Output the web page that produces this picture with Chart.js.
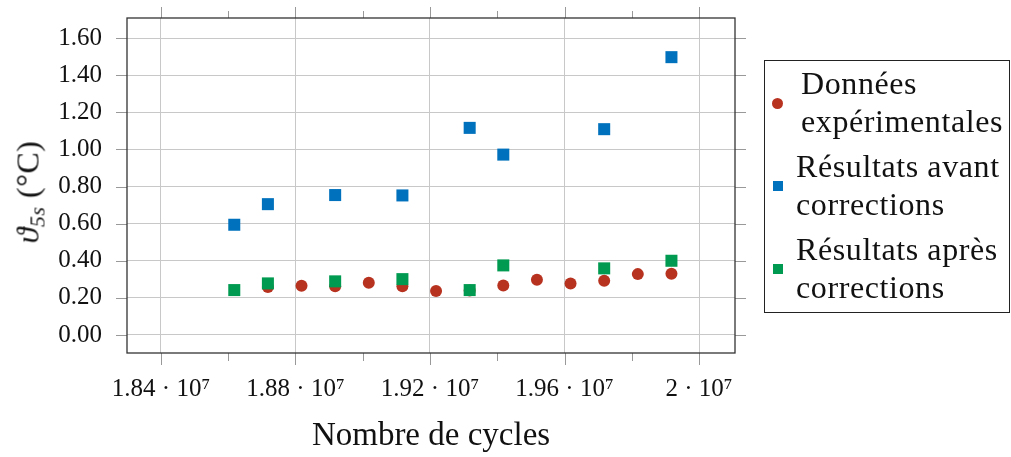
<!DOCTYPE html>
<html>
<head>
<meta charset="utf-8">
<script src="https://cdn.jsdelivr.net/npm/chart.js@4.4.1/dist/chart.umd.min.js"></script>
<style>
  html, body { margin: 0; padding: 0; background: #fff; }
  #wrap { position: relative; width: 1011px; height: 457px; font-family: "Liberation Serif", "DejaVu Serif", serif; color: #111; }
  #chart { position: absolute; left: 0; top: 0; }
  #ytitle { position: absolute; left: 28px; top: 192px; transform: translate(-50%, -50%) rotate(-90deg); font-size: 32px; white-space: nowrap; letter-spacing: 0.5px; }
  #ytitle i { font-style: italic; }
  #ytitle sub { font-size: 22px; vertical-align: -6px; line-height: 0; }
  #legend { position: absolute; left: 764px; top: 60px; width: 246px; height: 253px; border: 1.3px solid #222; box-sizing: border-box; }
  .entry { position: absolute; font-size: 32px; line-height: 38px; white-space: nowrap; letter-spacing: 0.6px; }
  .mark { position: absolute; }
</style>
</head>
<body>
<div id="wrap">
  <canvas id="chart" width="1011" height="457"></canvas>
  <div id="ytitle"><i>ϑ<sub>5s</sub></i> (°C)</div>
  <div id="legend"></div>
</div>
<script>
// cycles where the measurements were taken
const cyclesMesures = [18718000, 18818000, 18918000, 19018000, 19118000, 19218000, 19318000,
                       19418000, 19518000, 19618000, 19718000, 19818000, 19918000];
const tempMesures = [0.258, 0.265, 0.262, 0.282, 0.262, 0.237, 0.240,
                     0.267, 0.298, 0.278, 0.292, 0.328, 0.330];

// cycles of the simulated results
const cyclesSimul = [18618000, 18718000, 18918000, 19118000, 19318000, 19418000, 19718000, 19918000];
const tempAvant = [0.594, 0.705, 0.754, 0.752, 1.116, 0.972, 1.109, 1.497];
const tempApres = [0.242, 0.278, 0.289, 0.301, 0.242, 0.375, 0.359, 0.400];

const seriesNames = [
    ["Données", "expérimentales"],
    ["Résultats avant", "corrections"],
    ["Résultats après", "corrections"],
];
const seriesColors = ["#b83220", "#0071bc", "#009a50"];

const xMajorTicks = [18400000, 18800000, 19200000, 19600000, 20000000];
const xMajorLabels = ["1.84 · 10⁷", "1.88 · 10⁷", "1.92 · 10⁷", "1.96 · 10⁷", "2 · 10⁷"];
const xMinorTicks = [18600000, 19000000, 19400000, 19800000];

const FONT = "'Liberation Serif', 'DejaVu Serif', serif";
const TICK_COLOR = "#999";

function toPts(xs, ys) {
    return xs.map((x, i) => ({ x, y: ys[i] }));
}

// frame + outward ticks on all four sides (pgfplots style)
const frameAndTicks = {
    id: "frameAndTicks",
    afterDraw(chart) {
        const { ctx, chartArea: a } = chart;
        const xs = chart.scales.x, ys = chart.scales.y;
        ctx.save();
        ctx.strokeStyle = TICK_COLOR;
        ctx.lineWidth = 1;
        ctx.beginPath();
        ys.ticks.forEach(t => {
            const py = Math.round(ys.getPixelForValue(t.value)) + 0.5;
            ctx.moveTo(a.left - 11, py); ctx.lineTo(a.left, py);
            ctx.moveTo(a.right, py); ctx.lineTo(a.right + 11, py);
        });
        xs.ticks.forEach(t => {
            const px = Math.round(xs.getPixelForValue(t.value)) + 0.5;
            ctx.moveTo(px, a.bottom); ctx.lineTo(px, a.bottom + 12);
            ctx.moveTo(px, a.top - 11); ctx.lineTo(px, a.top);
        });
        xMinorTicks.forEach(v => {
            const px = Math.round(xs.getPixelForValue(v)) + 0.5;
            ctx.moveTo(px, a.bottom); ctx.lineTo(px, a.bottom + 8);
            ctx.moveTo(px, a.top - 7); ctx.lineTo(px, a.top);
        });
        ctx.stroke();
        ctx.strokeStyle = "#333";
        ctx.lineWidth = 1.3;
        ctx.strokeRect(a.left, a.top, a.right - a.left, a.bottom - a.top);
        ctx.restore();
    },
};

new Chart(document.getElementById("chart"), {
    type: "scatter",
    data: {
        datasets: [
            {
                label: seriesNames[0].join(" "),
                data: toPts(cyclesMesures, tempMesures),
                pointStyle: "circle",
                pointRadius: 6,
                backgroundColor: seriesColors[0],
                borderColor: seriesColors[0],
                borderWidth: 0,
                order: 2,
            },
            {
                label: seriesNames[1].join(" "),
                data: toPts(cyclesSimul, tempAvant),
                pointStyle: "rect",
                pointRadius: 8.5,
                backgroundColor: seriesColors[1],
                borderColor: seriesColors[1],
                borderWidth: 0,
                order: 1,
            },
            {
                label: seriesNames[2].join(" "),
                data: toPts(cyclesSimul, tempApres),
                pointStyle: "rect",
                pointRadius: 8.5,
                backgroundColor: seriesColors[2],
                borderColor: seriesColors[2],
                borderWidth: 0,
                order: 0,
            },
        ],
    },
    options: {
        responsive: false,
        animation: false,
        devicePixelRatio: 1,
        layout: { padding: { left: 0, right: 276, top: 18, bottom: 0 } },
        plugins: {
            legend: { display: false },
            tooltip: { enabled: false },
        },
        scales: {
            x: {
                type: "linear",
                min: 18299000,
                max: 20107000,
                afterBuildTicks: s => { s.ticks = xMajorTicks.map(v => ({ value: v })); },
                afterFit: s => { s.height = 104; s.paddingLeft = 0; s.paddingRight = 0; },
                border: { display: false },
                grid: { color: "#c8c8c8", lineWidth: 1, drawTicks: false },
                ticks: {
                    autoSkip: false,
                    maxRotation: 0,
                    padding: 21,
                    color: "#111",
                    font: { family: FONT, size: 25 },
                    callback: (v, i) => xMajorLabels[i],
                },
                title: {
                    display: true,
                    text: "Nombre de cycles",
                    color: "#111",
                    font: { family: FONT, size: 33 },
                    padding: { top: 0, bottom: 1 },
                },
            },
            y: {
                min: -0.097,
                max: 1.708,
                afterFit: s => { s.width = 127; s.paddingTop = 0; s.paddingBottom = 0; },
                border: { display: false },
                grid: { color: "#c8c8c8", lineWidth: 1, drawTicks: false },
                ticks: {
                    stepSize: 0.2,
                    includeBounds: false,
                    padding: 25,
                    color: "#111",
                    font: { family: FONT, size: 25 },
                    callback: v => v.toFixed(2),
                },
            },
        },
    },
    plugins: [frameAndTicks],
});

// legend box drawn as html so the two-line entries wrap like the original
const legendEl = document.getElementById("legend");
const entryTops = [3, 86, 169];
const textLefts = [36, 31, 31];
seriesNames.forEach((lines, i) => {
    const e = document.createElement("div");
    e.className = "entry";
    e.style.top = entryTops[i] + "px";
    e.style.left = textLefts[i] + "px";
    e.innerHTML = lines.join("<br>");
    legendEl.appendChild(e);

    const m = document.createElement("div");
    m.className = "mark";
    const size = i === 0 ? 11 : 10;
    m.style.width = size + "px";
    m.style.height = size + "px";
    m.style.left = (12.5 - size / 2) + "px";
    m.style.top = (entryTops[i] + 39 - size / 2) + "px";
    m.style.background = seriesColors[i];
    if (i === 0) m.style.borderRadius = "50%";
    legendEl.appendChild(m);
});
</script>
</body>
</html>
